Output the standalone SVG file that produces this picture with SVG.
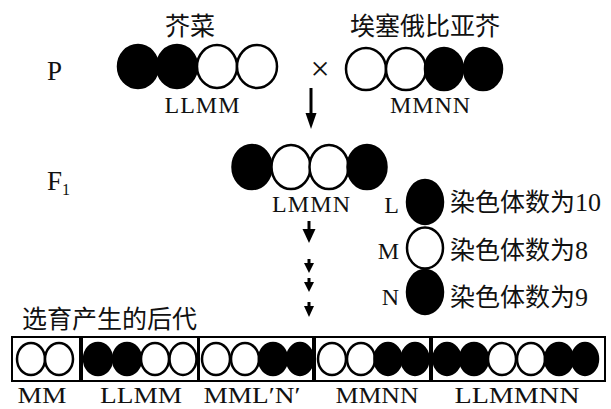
<svg xmlns="http://www.w3.org/2000/svg" width="611" height="409" viewBox="0 0 611 409">
<style>
.w{fill:#fff;stroke:#000;stroke-width:2.5}
.b{fill:#000;stroke:#000;stroke-width:2.5}
.box{fill:none;stroke:#000;stroke-width:2}
.cj{font-family:"Noto Sans CJK SC","Noto Sans",sans-serif;font-size:25px;fill:#111}
.se{font-family:"Liberation Serif","Times New Roman",serif;fill:#111}
.lb{font-size:24px;text-anchor:middle}
.lb2{font-size:24px;text-anchor:middle}
.ar{stroke:#000;stroke-width:3;fill:none}
.ah{fill:#000}
</style>
<rect width="611" height="409" fill="#fff"/>
<g id="labels">
<text class="se" x="47" y="80" font-size="27">P</text>
<text class="se" x="47" y="190" font-size="27">F<tspan font-size="16" dy="5">1</tspan></text>
<text class="cj" x="190" y="35" text-anchor="middle">芥菜</text>
<text class="cj" x="425" y="35" text-anchor="middle">埃塞俄比亚芥</text>
<text class="se" x="320" y="80" font-size="34" text-anchor="middle">×</text>
<text class="cj" x="22" y="328" font-size="26">选育产生的后代</text>
</g>
<g id="p-mustard">
<ellipse class="b" cx="138" cy="66.5" rx="20" ry="21.5"/>
<ellipse class="b" cx="177" cy="66.5" rx="20" ry="21.5"/>
<ellipse class="w" cx="217" cy="66.5" rx="20" ry="21.5"/>
<ellipse class="w" cx="257" cy="66.5" rx="20" ry="21.5"/>
<text class="se lb" x="202" y="113" textLength="75">LLMM</text>
</g>
<g id="p-ethiopian">
<ellipse class="w" cx="366" cy="69" rx="20" ry="21"/>
<ellipse class="w" cx="406" cy="69" rx="20" ry="21"/>
<ellipse class="b" cx="444" cy="69" rx="19" ry="21"/>
<ellipse class="b" cx="483" cy="69" rx="19" ry="21"/>
<text class="se lb" x="430" y="113" textLength="80">MMNN</text>
</g>
<g id="f1">
<ellipse class="b" cx="252" cy="167" rx="19.5" ry="22"/>
<ellipse class="w" cx="291" cy="167" rx="19.5" ry="22"/>
<ellipse class="w" cx="329" cy="167" rx="19.5" ry="22"/>
<ellipse class="b" cx="367" cy="167" rx="19.5" ry="22"/>
<text class="se lb" x="311" y="212" textLength="78">LMMN</text>
</g>
<g id="legend">
<text class="se" x="399" y="213" font-size="24" text-anchor="end">L</text>
<ellipse class="b" cx="425" cy="202" rx="18" ry="22"/>
<text class="cj" x="450" y="211">染色体数为<tspan class="se" font-size="26">10</tspan></text>
<text class="se" x="399" y="259" font-size="24" text-anchor="end">M</text>
<ellipse class="w" cx="425" cy="248" rx="18" ry="20.5"/>
<text class="cj" x="450" y="259">染色体数为<tspan class="se" font-size="26">8</tspan></text>
<text class="se" x="399" y="305" font-size="24" text-anchor="end">N</text>
<ellipse class="b" cx="425" cy="292" rx="18" ry="22"/>
<text class="cj" x="450" y="306">染色体数为<tspan class="se" font-size="26">9</tspan></text>
</g>
<g id="connectors">
<line class="ar" x1="311" y1="88" x2="311" y2="116"/>
<polygon class="ah" points="305.5,113 316.5,113 311,129"/>
<line class="ar" x1="309" y1="221" x2="309" y2="232"/>
<polygon class="ah" points="302.5,229 315.5,229 309,243"/>
<line class="ar" x1="309" y1="259" x2="309" y2="264"/>
<polygon class="ah" points="304,263 314,263 309,273"/>
<line class="ar" x1="309" y1="278" x2="309" y2="283"/>
<polygon class="ah" points="304,282 314,282 309,292"/>
<line class="ar" x1="309" y1="302" x2="309" y2="307"/>
<polygon class="ah" points="304,306 314,306 309,317"/>
</g>
<g id="off-mm">
<rect class="box" x="12" y="337" width="68" height="44"/>
<ellipse class="w" cx="31" cy="359" rx="14" ry="16"/>
<ellipse class="w" cx="59" cy="359" rx="14" ry="16"/>
<text class="se lb2" x="42" y="403" textLength="49" lengthAdjust="spacingAndGlyphs">MM</text>
</g>
<g id="off-llmm">
<rect class="box" x="82" y="337" width="116" height="44"/>
<ellipse class="b" cx="98" cy="359" rx="14" ry="16"/>
<ellipse class="b" cx="127" cy="359" rx="14" ry="16"/>
<ellipse class="w" cx="155" cy="359" rx="14" ry="16"/>
<ellipse class="w" cx="183" cy="359" rx="13.5" ry="16"/>
<text class="se lb2" x="141" y="403" textLength="82" lengthAdjust="spacingAndGlyphs">LLMM</text>
</g>
<g id="off-mmln">
<rect class="box" x="199" y="337" width="114" height="44"/>
<ellipse class="w" cx="216" cy="359" rx="14" ry="16"/>
<ellipse class="w" cx="245" cy="359" rx="14" ry="16"/>
<ellipse class="b" cx="273" cy="359" rx="14" ry="16"/>
<ellipse class="b" cx="300" cy="359" rx="13" ry="16"/>
<text class="se lb2" x="252" y="403" textLength="97" lengthAdjust="spacingAndGlyphs">MML′N′</text>
</g>
<g id="off-mmnn">
<rect class="box" x="315" y="337" width="115" height="44"/>
<ellipse class="w" cx="332" cy="359" rx="14" ry="16"/>
<ellipse class="w" cx="361" cy="359" rx="14" ry="16"/>
<ellipse class="b" cx="388" cy="359" rx="13.5" ry="16"/>
<ellipse class="b" cx="415" cy="359" rx="13.5" ry="16"/>
<text class="se lb2" x="377" y="403" textLength="83" lengthAdjust="spacingAndGlyphs">MMNN</text>
</g>
<g id="off-llmmnn">
<rect class="box" x="432" y="337" width="173" height="44"/>
<ellipse class="b" cx="447" cy="359" rx="13.5" ry="16"/>
<ellipse class="b" cx="474" cy="359" rx="14" ry="16"/>
<ellipse class="w" cx="502" cy="359" rx="14" ry="16"/>
<ellipse class="w" cx="531" cy="359" rx="14" ry="16"/>
<ellipse class="b" cx="559" cy="359" rx="14" ry="16"/>
<ellipse class="b" cx="585" cy="359" rx="13" ry="16"/>
<text class="se lb2" x="517" y="403" textLength="125" lengthAdjust="spacingAndGlyphs">LLMMNN</text>
</g>
</svg>
